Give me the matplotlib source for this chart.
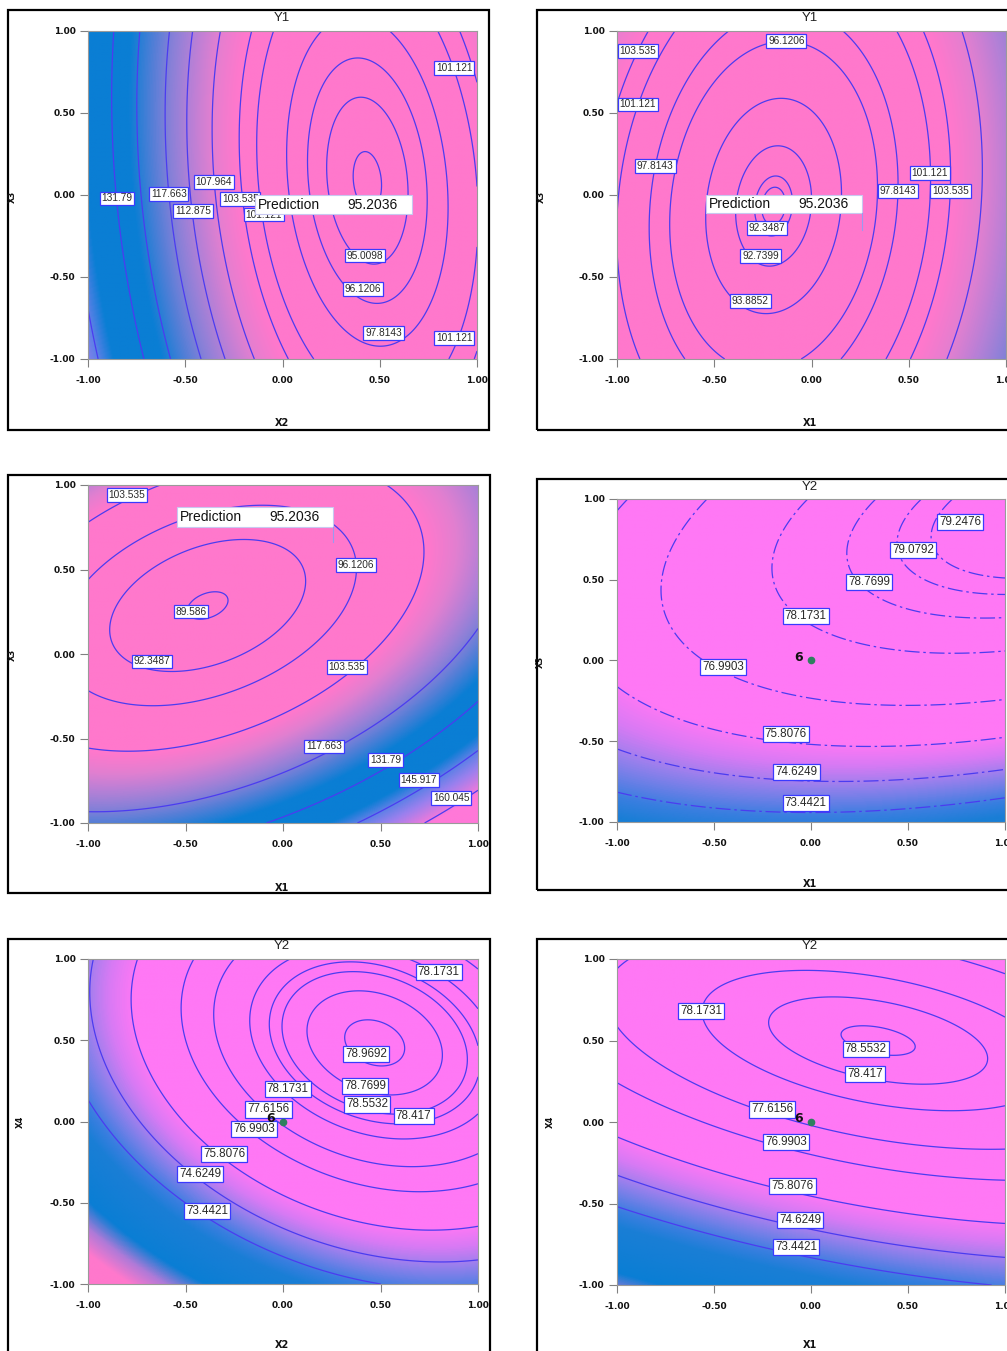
import numpy as np
import matplotlib
matplotlib.use('Agg')
import matplotlib.pyplot as plt
from matplotlib.colors import LinearSegmentedColormap, Normalize
from matplotlib.patches import Rectangle

# fitted response surface coefficients: b0, x, y, x^2, y^2, xy
coef_y1_x2x3 = [98.461, -19.813, -1.95, 22.411, 3.789, 2.953]
coef_y1_x1x3 = [92.741, 5.283, 0.207, 13.838, 3.915, -1.627]
coef_y1_x1x2 = [94.63, 13.820, -17.412, 13.231, 21.897, -12.529]
coef_y2_x1x3 = [77.706, 0.926, 2.576, -0.662, -2.077, 0.986]
coef_y2_x2x4 = [77.690, 2.575, 2.987, -2.175, -2.555, -1.095]
coef_y2_x1x4 = [77.680, 0.909, 2.936, -0.582, -2.587, -1.013]

lev1 = [94.17, 95.0098, 96.1206, 97.8143, 101.121, 103.535, 107.964, 112.875, 117.663, 124.727, 131.79, 145.917]
lev2 = [92.27, 92.3487, 92.7399, 93.8852, 96.1206, 97.8143, 101.121, 103.535, 107.964]
lev3 = [89.586, 92.3487, 96.1206, 103.535, 117.663, 131.79, 145.917, 160.045]
lev4 = [73.4421, 74.6249, 75.8076, 76.9903, 78.1731, 78.7699, 79.0792, 79.2476]
lev5 = [73.4421, 74.6249, 75.8076, 76.9903, 77.6156, 78.1731, 78.417, 78.5532, 78.7699, 78.9692]
lev6 = [73.4421, 74.6249, 75.8076, 76.9903, 77.6156, 78.1731, 78.417, 78.5532]

lab1 = [('131.79', -0.851, -0.021), ('117.663', -0.585, 0.007), ('112.875', -0.46, -0.099),
        ('107.964', -0.354, 0.078), ('103.535', -0.217, -0.023), ('101.121', -0.097, -0.119),
        ('95.0098', 0.423, -0.369), ('96.1206', 0.414, -0.573), ('97.8143', 0.52, -0.841),
        ('101.121', 0.883, 0.776), ('101.121', 0.883, -0.872)]
lab2 = [('96.1206', -0.129, 0.939), ('103.535', -0.892, 0.878), ('101.121', -0.892, 0.552),
        ('97.8143', -0.803, 0.176), ('101.121', 0.609, 0.135), ('97.8143', 0.446, 0.023),
        ('103.535', 0.715, 0.023), ('92.3487', -0.228, -0.2), ('92.7399', -0.262, -0.373),
        ('93.8852', -0.314, -0.648)]
lab3 = [('103.535', -0.8, 0.941), ('96.1206', 0.374, 0.527), ('89.586', -0.472, 0.251),
        ('92.3487', -0.672, -0.044), ('103.535', 0.328, -0.078), ('117.663', 0.209, -0.547),
        ('131.79', 0.525, -0.626), ('145.917', 0.696, -0.744), ('160.045', 0.862, -0.852)]
lab4 = [('79.2476', 0.768, 0.859), ('79.0792', 0.527, 0.683), ('78.7699', 0.3, 0.488),
        ('78.1731', -0.027, 0.275), ('76.9903', -0.453, -0.04), ('75.8076', -0.13, -0.457),
        ('74.6249', -0.075, -0.689), ('73.4421', -0.027, -0.88)]
lab5 = [('78.1731', 0.798, 0.918), ('78.9692', 0.426, 0.414), ('78.1731', 0.024, 0.202),
        ('78.7699', 0.422, 0.218), ('78.5532', 0.431, 0.105), ('78.417', 0.67, 0.033),
        ('77.6156', -0.074, 0.074), ('76.9903', -0.15, -0.045), ('75.8076', -0.301, -0.198),
        ('74.6249', -0.424, -0.323), ('73.4421', -0.39, -0.553)]
lab6 = [('78.1731', -0.566, 0.682), ('78.5532', 0.282, 0.45), ('78.417', 0.277, 0.296),
        ('77.6156', -0.2, 0.077), ('76.9903', -0.127, -0.124), ('75.8076', -0.096, -0.391),
        ('74.6249', -0.055, -0.6), ('73.4421', -0.076, -0.768)]

prediction = '95.2036'
design_point = (0.0, 0.0)
ticks = [-1, -0.5, 0, 0.5, 1]
tick_labels = ['-1.00', '-0.50', '0.00', '0.50', '1.00']

# colour ramps (value, colour)
y1_ramp = [(86, '#ff78cc'), (104, '#ff78cc'), (108, '#e27fd0'), (112, '#b880d6'), (117, '#8480d8'),
           (123, '#3a7ed6'), (127, '#0a7ed4'), (141, '#0a7ed4'), (146, '#5a80e6'), (152, '#9a80ee'),
           (162, '#ff78d8'), (175, '#ff78d8')]
y2_ramp = [(64, '#ff78cc'), (67.9, '#ff78cc'), (69.1, '#b07ad8'), (70.3, '#0a7ed4'), (72.6, '#1a7ed6'),
           (73.3, '#3a7ee0'), (74.4, '#9480ec'), (75.2, '#d87af4'), (75.9, '#ff78f5'), (81, '#ff78f5')]

FW, FH = 1007, 1351
FONT = ['Liberation Sans', 'DejaVu Sans']
LINE = '#4b3cf0'


def ramp(r):
    lo, hi = r[0][0], r[-1][0]
    cm = LinearSegmentedColormap.from_list('r', [((v - lo) / (hi - lo), c) for v, c in r])
    return cm, Normalize(lo, hi)


def rect(x0, y0, x1, y1):
    return [x0 / FW, 1 - y1 / FH, (x1 - x0) / FW, (y1 - y0) / FH]


def ftext(x, y, s, **kw):
    fig.text(x / FW, 1 - y / FH, s, ha='center', va='center', **kw)


fig = plt.figure(figsize=(FW / 100, FH / 100), dpi=100)

panels = [
    dict(c=coef_y1_x2x3, lev=lev1, lab=lab1, ax=(88, 31, 477, 359), box=(8, 10, 489, 430), ramp=y1_ramp,
         title=('Y1', 282, 18), xl=('X2', 282, 423), yl=('X3', 12, 197), pred=(-0.141, 0.666, 0.0, -0.116, 0.331, None), fs=7.3),
    dict(c=coef_y1_x1x3, lev=lev2, lab=lab2, ax=(617, 31, 1006, 359), box=(537, 10, 1020, 430), ramp=y1_ramp,
         title=('Y1', 810, 18), xl=('X1', 810, 423), yl=('X3', 541, 197), pred=(-0.542, 0.26, 0.0, -0.11, -0.069, -0.213), fs=7.3),
    dict(c=coef_y1_x1x2, lev=lev3, lab=lab3, ax=(88, 485, 478, 823), box=(8, 475, 490, 893), ramp=y1_ramp,
         title=None, xl=('X1', 282, 888), yl=('X3', 12, 655), pred=(-0.544, 0.256, 0.87, 0.751, -0.072, 0.663), fs=7.3),
    dict(c=coef_y2_x1x3, lev=lev4, lab=lab4, ax=(617, 499, 1005, 822), box=(537, 479, 1020, 890), ramp=y2_ramp,
         title=('Y2', 810, 487), xl=('X1', 810, 884), yl=('X3', 540, 662), pred=None, fs=8.4, dashed=True),
    dict(c=coef_y2_x2x4, lev=lev5, lab=lab5, ax=(88, 959, 478, 1284), box=(8, 939, 490, 1365), ramp=y2_ramp,
         title=('Y2', 282, 946), xl=('X2', 282, 1345), yl=('X4', 20, 1122), pred=None, fs=8.4),
    dict(c=coef_y2_x1x4, lev=lev6, lab=lab6, ax=(617, 959, 1005, 1285), box=(537, 939, 1020, 1365), ramp=y2_ramp,
         title=('Y2', 810, 946), xl=('X1', 810, 1345), yl=('X4', 550, 1122), pred=None, fs=8.4),
]

g = np.linspace(-1, 1, 401)
X, Y = np.meshgrid(g, g)

for k, p in enumerate(panels):
    b0, b1, b2, b11, b22, b12 = p['c']
    Z = b0 + b1 * X + b2 * Y + b11 * X ** 2 + b22 * Y ** 2 + b12 * X * Y
    ax = fig.add_axes(rect(*p['ax']))
    cm, nm = ramp(p['ramp'])
    ax.imshow(Z, extent=[-1, 1, -1, 1], origin='lower', cmap=cm, norm=nm, aspect='auto',
              interpolation='bilinear', zorder=0)
    ls = [(0, (12, 3, 2, 3))] if p.get('dashed') else 'solid'
    ax.contour(X, Y, Z, levels=p['lev'], colors=LINE, linewidths=0.9, linestyles=ls, zorder=1)
    for s, x, y in p['lab']:
        ax.text(x, y, s, ha='center', va='center', fontsize=p['fs'], family=FONT, color='#2a2a2a', zorder=3,
                bbox=dict(boxstyle='square,pad=0.18', fc='white', ec='#3a3aff', lw=0.9))
    if p['pred'] is not None:
        x0, x1, y0, y1, xv, yflag = p['pred']
        ax.add_patch(Rectangle((x0, y1), x1 - x0, y0 - y1, fc='white', ec='#c8c8f0', lw=0.8, zorder=4))
        ym = (y0 + y1) / 2
        ax.text(x0 + 0.015, ym, 'Prediction', ha='left', va='center', fontsize=10, family=FONT,
                color='#111111', zorder=5)
        ax.text(xv, ym, prediction, ha='left', va='center', fontsize=10, family=FONT,
                color='#111111', zorder=5)
        if yflag is not None:
            ax.plot([x1, x1], [y1, yflag], color='#9a9af0', lw=0.8, zorder=4)
    if k >= 3:
        ax.plot(*design_point, 'o', color='#2f7f5f', ms=4.5, zorder=5)
        ax.text(design_point[0] - 0.04, design_point[1] + 0.02, '6', ha='right', va='center',
                fontsize=9, fontweight='bold', color='#111111', zorder=5)
    ax.set_xlim(-1, 1)
    ax.set_ylim(-1, 1)
    ax.set_xticks(ticks)
    ax.set_xticklabels(tick_labels)
    ax.set_yticks(ticks)
    ax.set_yticklabels(tick_labels)
    ax.tick_params(direction='out', length=6, width=0.8, color='#808080', labelsize=6.5,
                   labelcolor='#111111', pad=3)
    ax.tick_params(axis='x', pad=6)
    for lbl in ax.get_xticklabels() + ax.get_yticklabels():
        lbl.set_fontweight('bold')
    for sp in ax.spines.values():
        sp.set_color('#9a9a9a')
        sp.set_linewidth(0.8)
    if p['title']:
        t, tx, ty = p['title']
        ftext(tx, ty, t, fontsize=9.5, family=FONT, color='#222222')
    t, tx, ty = p['xl']
    ftext(tx, ty, t, fontsize=7, fontweight='bold', color='#111111')
    t, tx, ty = p['yl']
    ftext(tx, ty, t, fontsize=6, fontweight='bold', color='#111111', rotation=90)
    bx0, by0, bx1, by1 = p['box']
    fig.add_artist(Rectangle((bx0 / FW, 1 - by1 / FH), (bx1 - bx0) / FW, (by1 - by0) / FH,
                             transform=fig.transFigure, fill=False, ec='black', lw=1.6))

fig.savefig('out.png', dpi=100)
